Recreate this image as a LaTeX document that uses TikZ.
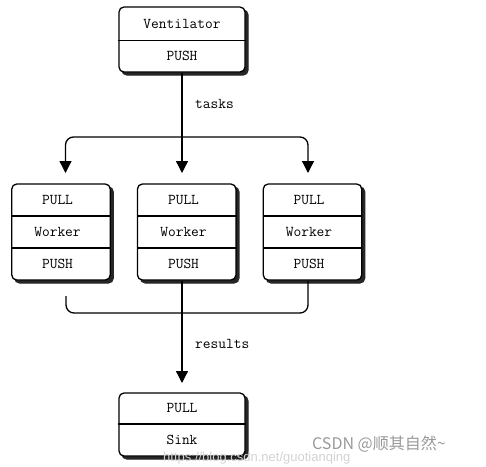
\documentclass[tikz,border=0pt]{standalone}
\usepackage{fontspec}
\newfontfamily\cjk{Noto Sans CJK SC}
\newfontfamily\wmfont{Liberation Sans}
\usetikzlibrary{shadows,arrows.meta}
\begin{document}
\begin{tikzpicture}[x=1pt,y=-1pt,
  box/.style={draw, line width=1.3pt, rounded corners=5pt, fill=white,
    copy shadow={shadow xshift=3pt, shadow yshift=-3pt, fill=black!85, draw=black!85},
    inner sep=0pt},
  lbl/.style={font=\fontsize{15}{17}\selectfont\ttfamily, inner sep=0pt},
  sep/.style={line width=1.2pt},
  conn/.style={line width=1.3pt, rounded corners=8pt},
  arr/.style={conn, -{Triangle[length=12pt,width=12pt]}}]
\useasboundingbox (0,0) rectangle (486,466);

% Ventilator
\node[box, minimum width=126pt, minimum height=65pt] (vent) at (182,39.5) {};
\draw[sep] (vent.west |- 0,40.5) -- (vent.east |- 0,40.5);
\node[lbl] (ventname) at (182,24) {Ventilator};
\node[lbl] (ventpush) at (182,56) {PUSH};

% Workers
\foreach \n/\cx/\tx in {w1/61/57.5, w2/186.7/183.5, w3/312.5/309}{
  \node[box, minimum width=98.5pt, minimum height=96pt] (\n) at (\cx,232) {};
  \draw[sep] (\n.west |- 0,216) -- (\n.east |- 0,216);
  \draw[sep] (\n.west |- 0,248) -- (\n.east |- 0,248);
  \node[lbl] (\n pull) at (\tx,200) {PULL};
  \node[lbl] (\n name) at (\tx,232) {Worker};
  \node[lbl] (\n push) at (\tx,264) {PUSH};
}

% Sink
\node[box, minimum width=126pt, minimum height=63pt] (sink) at (182,424.5) {};
\draw[sep] (sink.west |- 0,424) -- (sink.east |- 0,424);
\node[lbl] (sinkpull) at (182,408) {PULL};
\node[lbl] (sinkname) at (182,440) {Sink};

% connectors
\coordinate (split) at (182,137);
\coordinate (w1in) at (65.5,173);
\coordinate (w2in) at (182,173);
\coordinate (w3in) at (308,173);
\draw[conn] (vent.south) -- (split);
\draw[arr] (split) -| (w1in);
\draw[arr] (split) -- (w2in);
\draw[arr] (split) -| (w3in);

\coordinate (w1out) at (66,296);
\coordinate (merge) at (182,313);
\coordinate (w3out) at (308,280.5);
\coordinate (w2out) at (182,280.5);
\coordinate (sinkin) at (182,383);
\draw[conn] (w1out) |- (merge) -| (w3out);
\draw[arr] (w2out) -- (sinkin);

\node[lbl, anchor=west] (tasks) at (195,104) {tasks};
\node[lbl, anchor=west] (results) at (195,344) {results};

% watermark
\node[font=\cjk\fontsize{16}{18}\selectfont, text=gray!80, anchor=west, inner sep=0pt] (wm) at (312,444) {CSDN @顺其自然\char`\~};
\node[font=\wmfont\fontsize{13}{15}\selectfont, text=gray!35, anchor=west, inner sep=0pt] (url) at (163,458) {https://blog.csdn.net/guotianqing};
\end{tikzpicture}
\end{document}
